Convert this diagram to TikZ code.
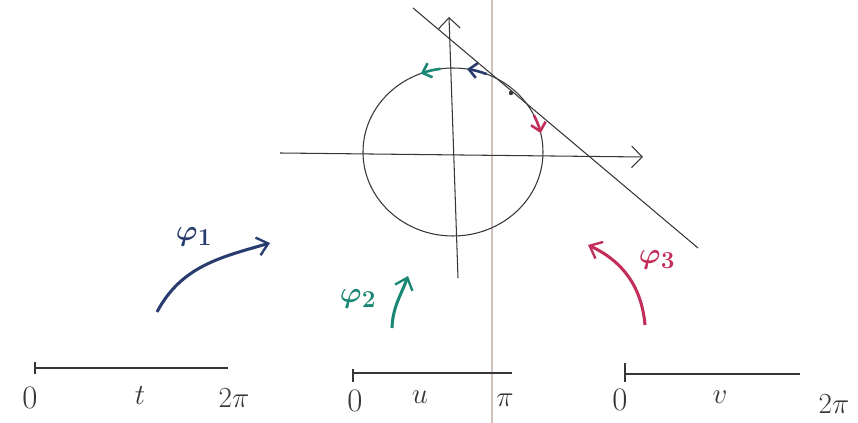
\documentclass[tikz,border=0pt]{standalone}
\usepackage{amsmath,amssymb}
\usepackage{tikz}
\usetikzlibrary{arrows.meta,calc}

\definecolor{inkblue}{RGB}{40,60,110}
\definecolor{inkteal}{RGB}{25,135,115}
\definecolor{inkred}{RGB}{195,45,90}
\definecolor{inkgray}{RGB}{55,55,55}
\definecolor{foldgray}{RGB}{205,195,190}

\begin{document}
\begin{tikzpicture}[
    x=0.03cm, y=0.03cm,
    pen/.style={draw=inkgray, line width=0.9pt},
    axis/.style={pen, -{Straight Barb[length=3.2mm,width=6.5mm]}},
    tickline/.style={pen, line width=1.3pt},
    flow/.style={line width=2.6pt, -{Straight Barb[length=3.2mm,width=5.5mm,line width=2pt]}},
    circmark/.style={line width=2.2pt, -{Straight Barb[length=2.4mm,width=4.5mm]}},
    lbl/.style={font=\fontsize{28}{32}\selectfont, inner sep=0pt, text=inkgray},
    philabel/.style={font=\fontsize{30}{34}\selectfont\boldmath, inner sep=0pt},
]

% Page and fold
\path[fill=white] (0,0) rectangle (858,423);
\useasboundingbox (0,0) rectangle (858,423);
\draw[foldgray, line width=1.6pt] (492,0) -- (492,423);

% Circle, axes, tangent
\coordinate (O) at (453,271);
\coordinate (xl) at (280,270);
\coordinate (xr) at (643,266);
\coordinate (yb) at (458,145);
\coordinate (yt) at (449,406);
\coordinate (tl) at (413,415);
\coordinate (tr) at (698,175);
\coordinate (P) at (511,330);

\draw[pen] (O) ellipse [x radius=90, y radius=84];
\draw[axis] (xl) -- (xr);
\draw[axis] (yb) -- (yt);
\draw[pen] (tl) -- (tr);
\fill[inkgray] (P) circle (2.2);

% Marks on the circle
\draw[circmark, inkteal] ($(O)+(98:90 and 84)$) arc[start angle=98, end angle=111, x radius=90, y radius=84];
\draw[circmark, inkblue] ($(O)+(68:90 and 84)$) arc[start angle=68, end angle=81, x radius=90, y radius=84];
\draw[circmark, inkred] ($(O)+(26:90 and 84)$) arc[start angle=26, end angle=13, x radius=90, y radius=84];

% Parametrisations
\coordinate (a1) at (157,111);
\coordinate (b1) at (270,180);
\coordinate (a2) at (392,95);
\coordinate (b2) at (408,147);
\coordinate (a3) at (645,98);
\coordinate (b3) at (588,178);

\draw[flow, inkblue] (a1) to[out=62, in=196] (b1);
\draw[flow, inkteal] (a2) to[out=88, in=250] (b2);
\draw[flow, inkred] (a3) to[out=95, in=-25] (b3);

\node[philabel, text=inkblue] (phi1) at (194,186) {$\varphi_1$};
\node[philabel, text=inkteal] (phi2) at (358,124) {$\varphi_2$};
\node[philabel, text=inkred] (phi3) at (657,163) {$\varphi_3$};

% Parameter intervals
\coordinate (s1) at (35,55);
\coordinate (e1) at (228,55);
\coordinate (s2) at (353,50);
\coordinate (e2) at (512,50);
\coordinate (s3) at (625,49);
\coordinate (e3) at (800,49);

\draw[pen] (s1) -- (e1);
\draw[tickline] ($(s1)+(0,6)$) -- ($(s1)+(0,-6)$);
\draw[pen] (s2) -- (e2);
\draw[tickline] ($(s2)+(0,4)$) -- ($(s2)+(0,-9)$);
\draw[pen] (s3) -- (e3);
\draw[tickline] ($(s3)+(0,11)$) -- ($(s3)+(0,-8)$);

\node[lbl] (zero1) at (30,25) {0};
\node[lbl] (par1) at (140,27) {$t$};
\node[lbl] (end1) at (234,25) {$2\pi$};
\node[lbl] (zero2) at (355,22) {0};
\node[lbl] (par2) at (420,26) {$u$};
\node[lbl] (end2) at (505,23) {$\pi$};
\node[lbl] (zero3) at (620,23) {0};
\node[lbl] (par3) at (720,26) {$v$};
\node[lbl] (end3) at (834,19) {$2\pi$};

\end{tikzpicture}
\end{document}
